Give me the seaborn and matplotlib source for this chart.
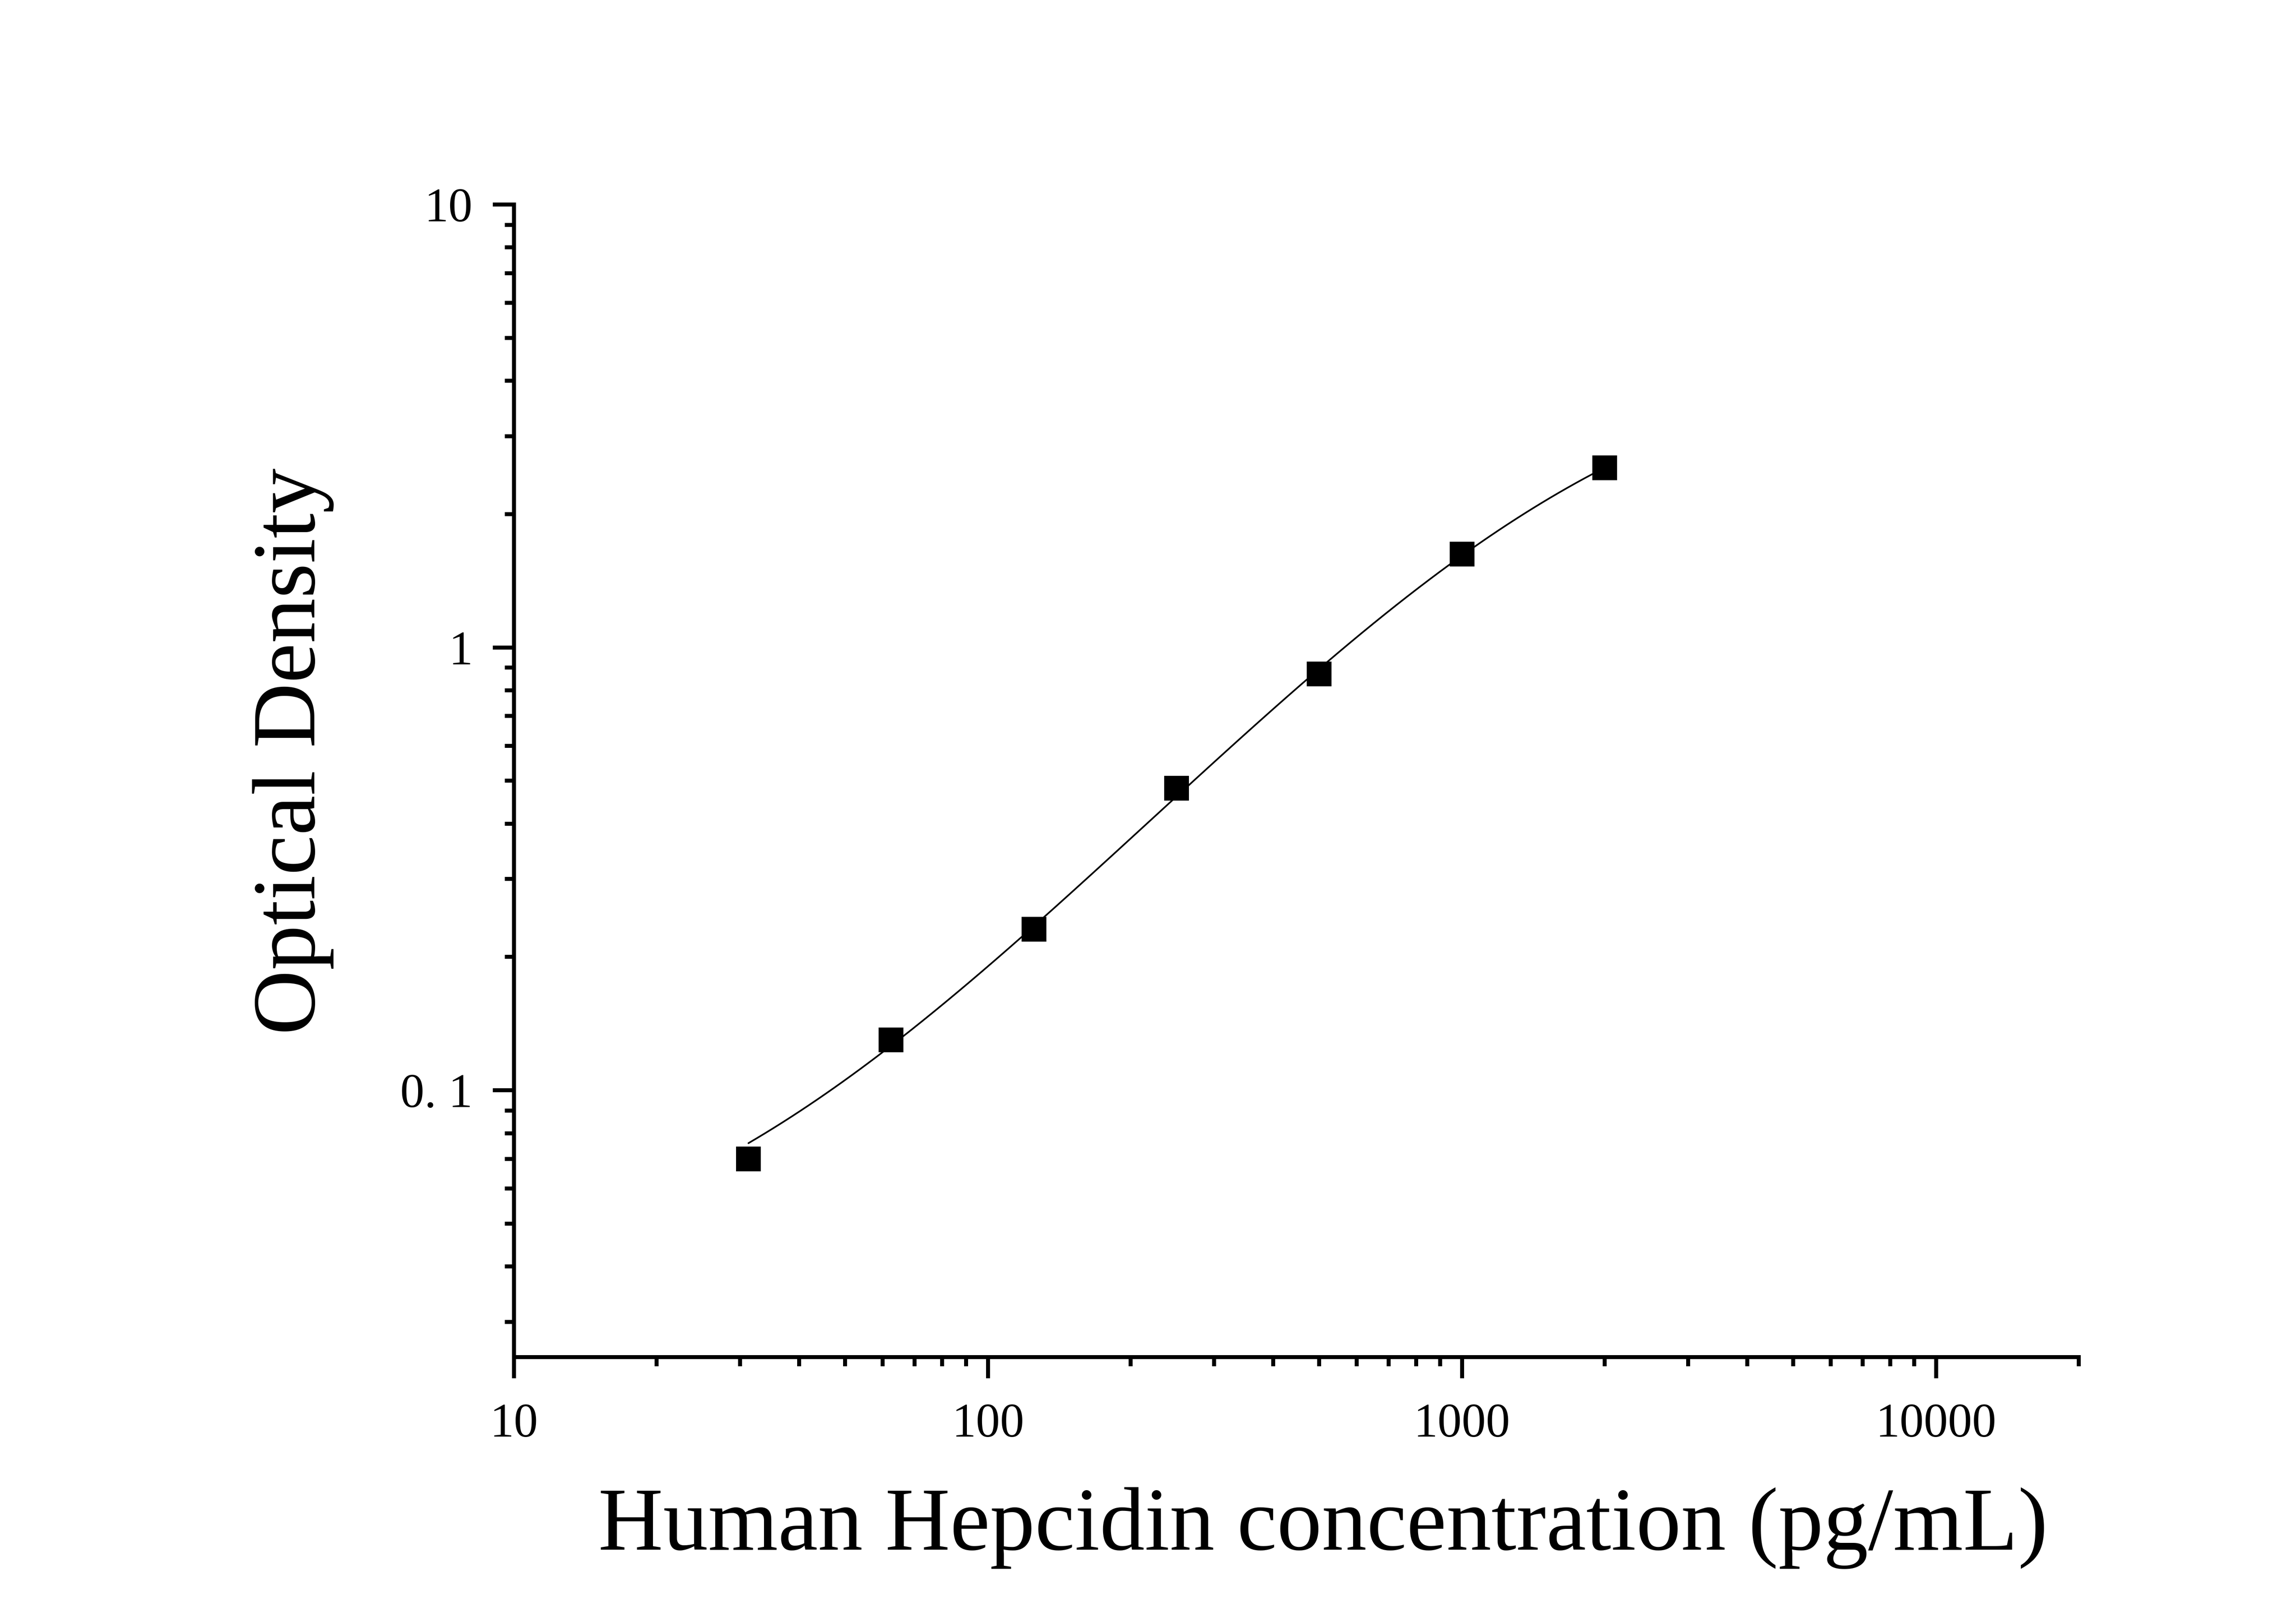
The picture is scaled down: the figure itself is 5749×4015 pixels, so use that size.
import numpy as np
import pandas as pd
import matplotlib
matplotlib.use("Agg")
import matplotlib.pyplot as plt
import seaborn as sns
from matplotlib.ticker import FixedLocator, LogLocator, NullFormatter, FixedFormatter

# standard curve readings
conc = [31.25, 62.5, 125, 250, 500, 1000, 2000]
od = [0.070, 0.130, 0.231, 0.481, 0.872, 1.623, 2.544]

x_ticks = [10, 100, 1000, 10000]
x_tick_labels = ["10", "100", "1000", "10000"]
y_ticks = [0.1, 1, 10]
y_tick_labels = ["0. 1", "1", "10"]

df = pd.DataFrame({"conc": conc, "od": od})


def four_pl(x, a, b, c, d):
    return d + (a - d) / (1 + (x / c) ** b)


# fitted standard curve (4PL if scipy is around, cubic in log-log otherwise)
xs = np.logspace(np.log10(conc[0]), np.log10(conc[-1]), 300)
try:
    from scipy.optimize import curve_fit
    params, _ = curve_fit(four_pl, df["conc"], df["od"], p0=[0.02, 1.2, 3000, 5],
                          bounds=([-1, 0.1, 10, 1], [1, 5, 1e6, 100]), maxfev=20000)
    fit_od = four_pl(xs, *params)
except Exception:
    coef = np.polyfit(np.log10(df["conc"]), np.log10(df["od"]), 3)
    fit_od = 10 ** np.polyval(coef, np.log10(xs))
fit = pd.DataFrame({"conc": xs, "od": fit_od})

sns.set_theme(style="ticks")
plt.rcParams["font.family"] = ["Liberation Serif", "DejaVu Serif"]

fig = plt.figure(figsize=(5749 / 300, 4015 / 300), dpi=300)
ax = fig.add_axes([0.2238, 0.1540, 0.9054 - 0.2238, 0.8725 - 0.1540])

sns.lineplot(data=fit, x="conc", y="od", ax=ax, color="black", linewidth=1.0)
sns.scatterplot(data=df, x="conc", y="od", ax=ax, marker="s", s=225,
                color="black", linewidth=0, zorder=3)

ax.set_xscale("log")
ax.set_yscale("log")
ax.set_xlim(10, 20000)
ax.set_ylim(0.025, 10)

ax.xaxis.set_major_locator(FixedLocator(x_ticks))
ax.xaxis.set_major_formatter(FixedFormatter(x_tick_labels))
ax.xaxis.set_minor_locator(LogLocator(base=10, subs=range(2, 10)))
ax.xaxis.set_minor_formatter(NullFormatter())
ax.yaxis.set_major_locator(FixedLocator(y_ticks))
ax.yaxis.set_major_formatter(FixedFormatter(y_tick_labels))
ax.yaxis.set_minor_locator(LogLocator(base=10, subs=range(2, 10)))
ax.yaxis.set_minor_formatter(NullFormatter())

for side in ["top", "right"]:
    ax.spines[side].set_visible(False)
for side in ["left", "bottom"]:
    ax.spines[side].set_linewidth(2.4)
    ax.spines[side].set_color("black")

ax.tick_params(axis="both", which="major", direction="out", length=12.7, width=2.4,
               color="black", labelsize=29, labelcolor="black")
ax.tick_params(axis="both", which="minor", direction="out", length=5.5, width=2.4,
               color="black")
ax.tick_params(axis="y", which="major", pad=12)
ax.tick_params(axis="x", which="major", pad=15)

ax.set_xlabel("Human Hepcidin concentration (pg/mL)", fontsize=54, color="black")
ax.set_ylabel("Optical Density", fontsize=54, color="black")
ax.xaxis.set_label_coords(0.517, -0.113)
ax.yaxis.set_label_coords(-0.115, 0.5255)

ax.grid(False)
ax.set_facecolor("white")
fig.patch.set_facecolor("white")

fig.savefig("out.png", dpi=300, facecolor="white")
plt.close(fig)
